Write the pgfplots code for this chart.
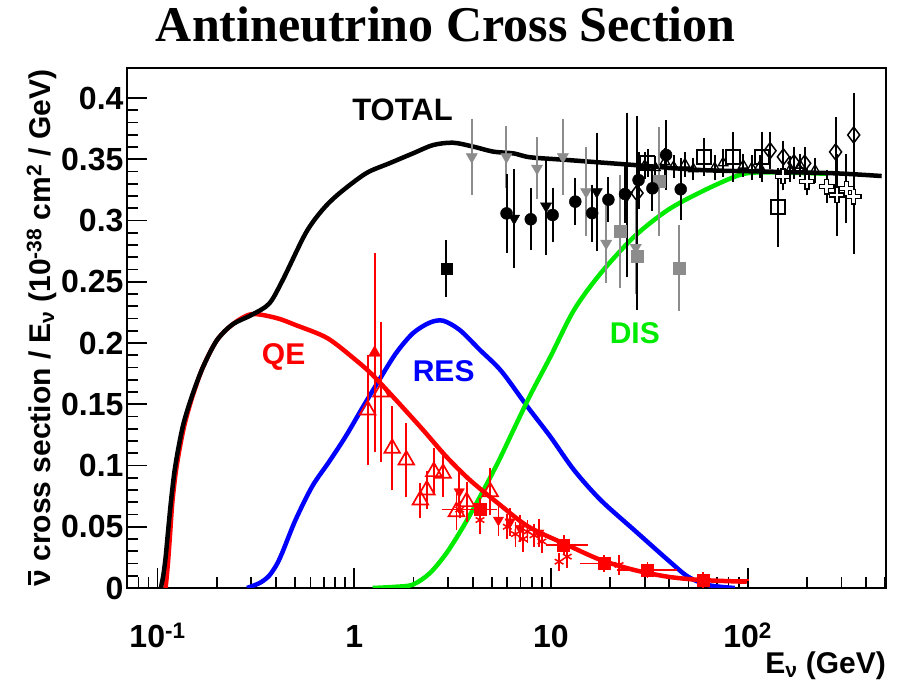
\documentclass[border=0pt]{standalone}
\usepackage{fontspec}
\setmainfont{Liberation Sans}
\newfontfamily\titlefont{Liberation Serif}
\usepackage{pgfplots}
\pgfplotsset{compat=1.18}
\definecolor{rgreen}{RGB}{0,235,0}
\definecolor{rgray}{RGB}{140,140,140}
\newcommand{\nubar}{{\rlap{\kern0.04em\rule[0.66em]{0.48em}{0.09em}}ν}}
\begin{document}
\begin{tikzpicture}
\path[use as bounding box] (-127pt,-97pt) rectangle (771pt,588pt);
\begin{axis}[
  scale only axis, width=759pt, height=520pt,
  xmode=log, xmin=0.07, xmax=505, ymin=0, ymax=0.4245,
  xtick={0.1,1,10,100},
  xticklabels={10\textsuperscript{-1},1,10,10\textsuperscript{2}},
  minor xtick={0.07,0.08,0.09,0.2,0.3,0.4,0.5,0.6,0.7,0.8,0.9,2,3,4,5,6,7,8,9,20,30,40,50,60,70,80,90,200,300,400,500},
  ytick={0,0.05,0.1,0.15,0.2,0.25,0.3,0.35,0.4},
  yticklabels={0,0.05,0.1,0.15,0.2,0.25,0.3,0.35,0.4},
  minor y tick num=4,
  tick pos=left, tick align=inside,
  major tick length=20pt, minor tick length=11pt,
  tick style={black, line width=1.8pt},
  axis line style={line width=2.5pt},
  ticklabel style={font=\fontsize{32}{36}\selectfont\bfseries},
  xticklabel style={anchor=base, yshift=-60pt},
  yticklabel style={anchor=east},
  ylabel={\nubar\ cross section / E\textsubscript{ν} (10\textsuperscript{-38} cm\textsuperscript{2} / GeV)},
  ylabel style={at={(axis description cs:-0.101,0.5)}, anchor=base, inner sep=0pt, font=\fontsize{30}{34}\selectfont\bfseries},
  xlabel={E\textsubscript{ν} (GeV)},
  xlabel style={at={(axis description cs:1,0)}, anchor=base east, inner sep=0pt, yshift=-86pt, font=\fontsize{30}{34}\selectfont\bfseries},
  title={Antineutrino Cross Section},
  title style={at={(axis description cs:0.42,1)}, anchor=base, inner sep=0pt, yshift=20pt, font=\fontsize{50}{54}\selectfont\titlefont\bfseries},
  clip=true,
]
% RES
\addplot[blue, line width=4.5pt, smooth, tension=0.5] coordinates {
(0.285,0) (0.33,0.004) (0.367,0.0095) (0.40,0.018) (0.43,0.0285) (0.503,0.0555) (0.612,0.083) (0.745,0.103) (0.907,0.124)
(1.10,0.147) (1.34,0.1698) (1.63,0.1916) (1.99,0.208) (2.42,0.2166) (2.83,0.2182) (3.44,0.2106)
(4.36,0.1943) (5.6,0.177) (7.6,0.148) (9.94,0.1235) (13.1,0.0963) (17.9,0.0718) (26.5,0.0473)
(39.3,0.0229) (49.8,0.0092) (63,0.0024) (86,0)};
% DIS
\addplot[rgreen, line width=4.5pt, smooth, tension=0.5] coordinates {
(1.24,0) (1.63,0.001) (1.99,0.0028) (2.42,0.012) (2.94,0.0283) (3.58,0.050) (4.36,0.0745)
(5.4,0.103) (6.45,0.129) (7.86,0.1576) (9.94,0.1888) (13.1,0.2269) (17.9,0.2569) (26.5,0.2868)
(39.3,0.3086) (58.2,0.3235) (86.1,0.3358) (105,0.339) (150,0.3392) (250,0.3382)};
% QE
\addplot[red, line width=4.5pt, smooth, tension=0.5] coordinates {
(0.110,0) (0.113,0.02) (0.116,0.045) (0.119,0.07) (0.124,0.095) (0.130,0.115) (0.138,0.135)
(0.151,0.157) (0.17,0.18) (0.20,0.202)
(0.24,0.215) (0.30,0.2235) (0.40,0.2205) (0.503,0.2147) (0.73,0.204) (1.02,0.186) (1.24,0.1739)
(1.63,0.1535) (2.24,0.129) (2.94,0.1072) (3.87,0.0882) (5.4,0.069) (7.7,0.050) (12.1,0.0351)
(17.9,0.0229) (26.5,0.0147) (39.3,0.0092) (58.2,0.0065) (99,0.0051)};
% TOTAL
\addplot[black, line width=4.5pt, smooth, tension=0.5] coordinates {
(0.104,0) (0.107,0.01) (0.110,0.025) (0.113,0.045) (0.117,0.07) (0.122,0.095) (0.128,0.115)
(0.136,0.135) (0.150,0.157) (0.17,0.18) (0.20,0.202) (0.24,0.215) (0.30,0.2228)
(0.369,0.232) (0.432,0.251) (0.566,0.2895)
(0.689,0.3086) (0.838,0.322) (1.148,0.3385) (1.51,0.3467) (1.99,0.3548) (2.52,0.3616)
(3.18,0.3635) (4.03,0.3603) (5.10,0.3562) (6.45,0.3548) (7.85,0.3516) (12.1,0.3494)
(26.5,0.3453) (58,0.3412) (127,0.3399) (280,0.3385) (480,0.3363)};

% ---------- red data ----------
\pgfplotsset{errstyle/.style={error bars/.cd, y dir=both, y explicit,
  error bar style={line width=1.8pt}, error mark options={line width=1.8pt, mark size=4pt}}}
% open triangles
\addplot[red, only marks, mark=triangle, mark size=9pt, mark options={fill=white, line width=1.7pt}, errstyle]
 table[x=x,y=y,y error=e] {
x y e
1.17 0.1453 0.042
1.37 0.160 0.054
1.56 0.114 0.031
1.84 0.1045 0.027
2.17 0.0718 0.011
2.34 0.080 0.012
2.54 0.095 0.016
2.83 0.0936 0.016
3.31 0.0623 0.012
3.73 0.0705 0.013
4.91 0.0786 0.016
};
% filled triangle up
\addplot[red, only marks, mark=triangle*, mark size=7pt, errstyle]
 table[x=x,y=y,y error=e] {
x y e
1.27 0.192 0.078
};
% filled triangles down
\addplot[red, only marks, mark=triangle*, mark size=6pt, mark options={rotate=180}, errstyle]
 table[x=x,y=y,y error=e] {
x y e
3.42 0.0786 0.014
5.41 0.0555 0.010
6.2 0.054 0.008
6.98 0.0487 0.008
8.68 0.0449 0.008
};
% stars
\addplot[red, only marks, mark=asterisk, mark size=5pt, mark options={line width=1.5pt}, errstyle]
 table[x=x,y=y,y error=e] {
x y e
4.36 0.0555 0.008
6.0 0.050 0.007
6.6 0.044 0.007
7.2 0.040 0.007
7.6 0.046 0.006
8.2 0.043 0.006
9.0 0.038 0.006
11.0 0.0215 0.004
12.1 0.0256 0.006
22.2 0.0188 0.005
};
% star with x error
\addplot[red, only marks, mark=asterisk, mark size=5pt, mark options={line width=1.5pt},
  error bars/.cd, x dir=both, x explicit, y dir=both, y explicit,
  error bar style={line width=1.8pt}, error mark options={line width=1.8pt, mark size=4pt}]
 table[x=x,y=y,x error plus=xp,x error minus=xm,y error=e] {
x y xp xm e
3.44 0.064 0.59 0.52 0.004
};
% squares with x error
\addplot[red, only marks, mark=square*, mark size=6pt,
  error bars/.cd, x dir=both, x explicit, y dir=both, y explicit,
  error bar style={line width=1.8pt}, error mark options={line width=1.8pt, mark size=4pt}]
 table[x=x,y=y,x error plus=xp,x error minus=xm,y error=e] {
x y xp xm e
4.36 0.064 0.74 0.49 0.006
11.6 0.0351 3.1 1.7 0.005
18.6 0.020 3.2 3.9 0.004
31.0 0.0147 10.7 8.3 0.003
59.3 0.0065 38.1 9.5 0.003
};

% ---------- black / gray data ----------
\pgfplotsset{kerr/.style={error bars/.cd, y dir=both, y explicit,
  error bar style={line width=2pt}, error mark options={line width=2pt, mark size=4pt}}}
\pgfplotsset{kerrasym/.style={error bars/.cd, y dir=both, y explicit,
  error bar style={line width=2pt}, error mark options={line width=2pt, mark size=4pt}}}
% gray triangles down
\addplot[rgray, only marks, mark=triangle*, mark size=6.5pt, mark options={rotate=180}, kerr]
 table[x=x,y=y,y error=e] {
x y e
3.96 0.352 0.028
5.94 0.352 0.022
8.5 0.3426 0.022
11.5 0.352 0.028
15.1 0.3235 0.033
19.1 0.2814 0.029
27.0 0.278 0.035
};
% gray squares
\addplot[rgray, only marks, mark=square*, mark size=6pt, kerr]
 table[x=x,y=y,y error=e] {
x y e
22.5 0.291 0.043
27.5 0.2705 0.040
35.5 0.3317 0.041
45.0 0.261 0.032
};
% black circles
\addplot[black, only marks, mark=*, mark size=6pt, kerr]
 table[x=x,y=y,y error=e] {
x y e
5.95 0.3058 0.029
7.9 0.301 0.022
10.2 0.3045 0.019
13.3 0.3154 0.016
16.2 0.306 0.020
19.6 0.3170 0.015
23.8 0.3216 0.020
27.9 0.333 0.020
32.8 0.3263 0.015
38.5 0.3535 0.025
45.7 0.3255 0.022
};
% black triangles down
\addplot[black, only marks, mark=triangle*, mark size=6.5pt, mark options={rotate=180}, kerr]
 table[x=x,y=y,y error=e] {
x y e
6.5 0.3018 0.037
9.45 0.3118 0.037
17.1 0.3235 0.045
24.5 0.3208 0.064
};
% black filled square
\addplot[black, only marks, mark=square*, mark size=5.5pt, kerr]
 table[x=x,y=y,y error=e] {
x y e
2.94 0.261 0.020
};
% small open triangles near curve
\addplot[black, only marks, mark=triangle, mark size=5.5pt, mark options={fill=white, line width=1.3pt}, kerr]
 table[x=x,y=y,y error=e] {
x y e
30 0.345 0.008
34 0.343 0.006
38 0.348 0.008
42 0.344 0.006
48 0.346 0.007
53 0.342 0.006
68 0.343 0.007
75 0.347 0.008
95 0.345 0.006
105 0.343 0.007
115 0.344 0.006
165 0.342 0.007
185 0.345 0.006
220 0.341 0.007
};
% open squares
\addplot[black, only marks, mark=square, mark size=7pt, mark options={fill=white, line width=1.6pt}, kerr]
 table[x=x,y=y,y error=e] {
x y e
31 0.347 0.008
60 0.352 0.012
84 0.352 0.017
118 0.352 0.017
143 0.3110 0.029
};
% open diamonds (asymmetric errors)
\addplot[black, only marks, mark=diamond, mark size=8pt, mark options={fill=white, line width=1.5pt},
  error bars/.cd, y dir=both, y explicit,
  error bar style={line width=2pt}, error mark options={line width=2pt, mark size=4pt}]
 table[x=x,y=y,y error plus=ep,y error minus=em] {
x y ep em
27.4 0.3224 0.060 0.092
130 0.357 0.012 0.012
152 0.352 0.010 0.010
172 0.347 0.010 0.010
195 0.3467 0.010 0.010
280 0.3560 0.025 0.025
346 0.3698 0.031 0.094
};
% open crosses (outlined plus)
\addplot[black, only marks, mark=+, mark size=8pt, mark options={line width=5.5pt}, kerr]
 table[x=x,y=y,y error=e] {
x y e
151 0.336 0.008
200 0.3317 0.008
252 0.3276 0.010
284 0.3208 0.030
318 0.326 0.025
346 0.3194 0.030
};
\addplot[white, only marks, mark=+, mark size=6.6pt, mark options={line width=2.5pt}]
 table[x=x,y=y] {
x y
151 0.336
200 0.3317
252 0.3276
284 0.3208
318 0.326
346 0.3194
};

% labels
\node[font=\fontsize{31}{34}\selectfont\bfseries, text=black] at (axis cs:1.76,0.390) {TOTAL};
\node[font=\fontsize{30}{34}\selectfont\bfseries, text=red] at (axis cs:0.438,0.1886) {QE};
\node[font=\fontsize{30}{34}\selectfont\bfseries, text=blue] at (axis cs:2.85,0.177) {RES};
\node[font=\fontsize{30}{34}\selectfont\bfseries, text=rgreen] at (axis cs:26.7,0.208) {DIS};
\end{axis}
\end{tikzpicture}
\end{document}
